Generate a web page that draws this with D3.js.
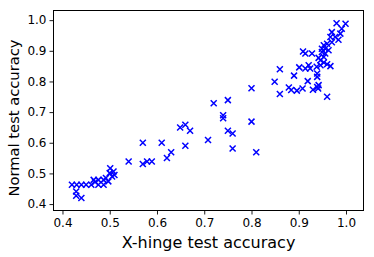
<html>
<head>
<script src="https://d3js.org/d3.v7.min.js"></script>
<style>
  body { margin: 0; background: #fff; }
  text { font-family: "DejaVu Sans", sans-serif; fill: #000; }
</style>
</head>
<body>
<svg width="374" height="257"></svg>
<script>

// X-hinge accuracy (x) vs normal accuracy (y)
var xVals = [0.420, 0.430, 0.440, 0.450, 0.461, 0.429, 0.429, 0.440, 0.466, 0.476,
             0.487, 0.476, 0.487, 0.497, 0.501, 0.508, 0.510, 0.505, 0.500, 0.469,
             0.492, 0.540, 0.570, 0.570, 0.579, 0.589, 0.610, 0.621, 0.630, 0.649,
             0.660, 0.670, 0.660, 0.708, 0.720, 0.750, 0.740, 0.740, 0.750, 0.760,
             0.760, 0.800, 0.800, 0.810, 0.849, 0.860, 0.860, 0.890, 0.879, 0.884,
             0.896, 0.908, 0.901, 0.914, 0.924, 0.919, 0.930, 0.939, 0.942, 0.941,
             0.960, 0.939, 0.939, 0.909, 0.914, 0.928, 0.938, 0.946, 0.953, 0.967,
             0.960, 0.946, 0.942, 0.949, 0.953, 0.956, 0.949, 0.956, 0.953, 0.960,
             0.970, 0.967, 0.977, 0.984, 0.970, 0.988, 0.980, 0.999, 0.991, 0.963,
             0.921];
var yVals = [0.463, 0.463, 0.463, 0.463, 0.463, 0.441, 0.427, 0.420, 0.479, 0.479,
             0.479, 0.463, 0.463, 0.474, 0.517, 0.506, 0.495, 0.490, 0.501, 0.472,
             0.485, 0.539, 0.600, 0.531, 0.539, 0.539, 0.600, 0.550, 0.569, 0.650,
             0.659, 0.639, 0.590, 0.609, 0.729, 0.739, 0.690, 0.680, 0.639, 0.630,
             0.581, 0.778, 0.669, 0.569, 0.799, 0.840, 0.759, 0.819, 0.780, 0.772,
             0.770, 0.777, 0.846, 0.842, 0.842, 0.801, 0.773, 0.782, 0.788, 0.777,
             0.750, 0.826, 0.815, 0.898, 0.891, 0.891, 0.848, 0.853, 0.862, 0.850,
             0.856, 0.869, 0.877, 0.896, 0.880, 0.891, 0.907, 0.907, 0.918, 0.923,
             0.928, 0.945, 0.945, 0.936, 0.961, 0.956, 0.990, 0.988, 0.972, 0.902,
             0.853];
var xTicks = [0.4, 0.5, 0.6, 0.7, 0.8, 0.9, 1.0];
var yTicks = [0.4, 0.5, 0.6, 0.7, 0.8, 0.9, 1.0];

var svg = d3.select("svg");
var pLeft = 53.5, pRight = 363.5, pTop = 10.5, pBottom = 210.5;

var x = d3.scaleLinear().domain([0.381, 1.037]).range([pLeft, pRight]);
var y = d3.scaleLinear().domain([0.379, 1.0315]).range([pBottom, pTop]);

var data = xVals.map(function(v, i) { return {x: v, y: yVals[i]}; });

// markers
var s = 3;
svg.append("g").selectAll("path")
    .data(data)
    .enter().append("path")
    .attr("d", function(d) {
        var cx = x(d.x), cy = y(d.y);
        return "M" + (cx - s) + "," + (cy - s) + "L" + (cx + s) + "," + (cy + s) +
               "M" + (cx - s) + "," + (cy + s) + "L" + (cx + s) + "," + (cy - s);
    })
    .attr("stroke", "#0000ff")
    .attr("stroke-width", 1.5)
    .attr("fill", "none");

// axes
svg.append("g")
    .attr("transform", "translate(0," + pBottom + ")")
    .call(d3.axisBottom(x).tickValues(xTicks).tickFormat(d3.format(".1f")).tickSizeOuter(0).tickSize(4).tickPadding(4));
svg.append("g")
    .attr("transform", "translate(" + pLeft + ",0)")
    .call(d3.axisLeft(y).tickValues(yTicks).tickFormat(d3.format(".1f")).tickSizeOuter(0).tickSize(4).tickPadding(3));

svg.selectAll(".tick text").style("font-size", "12px").style("font-family", "DejaVu Sans");
svg.selectAll(".domain").remove();
svg.selectAll(".tick line").attr("stroke", "#000").attr("stroke-width", 0.9);

// frame
svg.append("rect")
    .attr("x", pLeft).attr("y", pTop)
    .attr("width", pRight - pLeft).attr("height", pBottom - pTop)
    .attr("fill", "none").attr("stroke", "#000").attr("stroke-width", 1);

svg.append("text")
    .attr("x", (pLeft + pRight) / 2)
    .attr("y", 247.5)
    .attr("text-anchor", "middle")
    .style("font-size", "16px")
    .text("X-hinge test accuracy");

svg.append("text")
    .attr("transform", "translate(19,118) rotate(-90)")
    .attr("text-anchor", "middle")
    .style("font-size", "14.7px")
    .text("Normal test accuracy");

</script>
</body>
</html>
